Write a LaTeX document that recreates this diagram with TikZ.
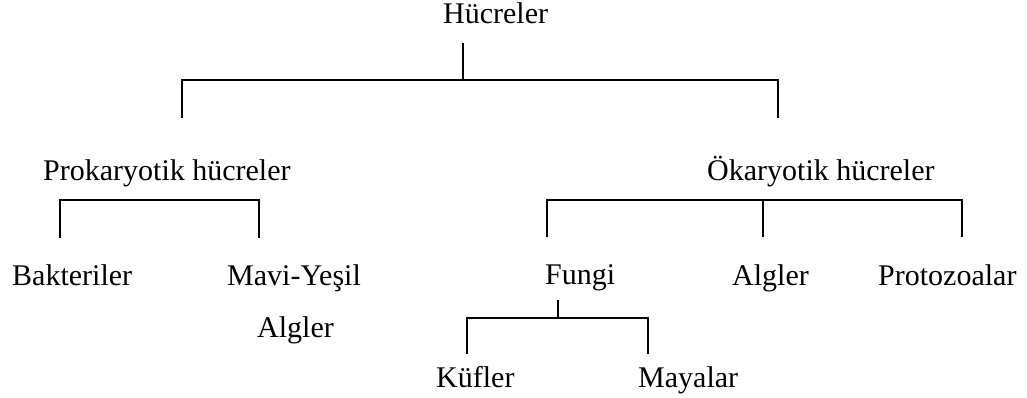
\documentclass[tikz,border=0pt]{standalone}
\usepackage{fontspec}
\setmainfont{Liberation Serif}
\begin{document}
\begin{tikzpicture}[x=1pt,y=-1pt,
  term/.style={anchor=base west, inner sep=0pt, font=\fontsize{30}{36}\selectfont},
  branch/.style={line width=1.4pt, line join=miter},
  stem/.style={line width=1.2pt}]
\useasboundingbox (0,0) rectangle (1027,398);

% labels of the classification tree
\node[term] (cells)   at (443,24)  {Hücreler};
\node[term] (prok)    at (43,180)  {Prokaryotik hücreler};
\node[term] (euk)     at (707,180) {Ökaryotik hücreler};
\node[term] (bact)    at (12,285)  {Bakteriler};
\node[term] (cyano)   at (227,285) {Mavi-Yeşil};
\node[term] (cyano2)  at (257,337) {Algler};
\node[term] (fungi)   at (545,284) {Fungi};
\node[term] (algae)   at (732,285) {Algler};
\node[term] (proto)   at (878,285) {Protozoalar};
\node[term] (molds)   at (436,387) {Küfler};
\node[term] (yeasts)  at (638,387) {Mayalar};

% junction points of the brackets
\coordinate (cells-s)  at (463,43);
\coordinate (cells-j)  at (463,80);
\coordinate (top-l)    at (182,80);
\coordinate (top-r)    at (778,80);
\coordinate (top-lb)   at (182,118);
\coordinate (top-rb)   at (778,118);

\coordinate (prok-l)   at (60,200);
\coordinate (prok-r)   at (259,200);
\coordinate (prok-lb)  at (60,238);
\coordinate (prok-rb)  at (259,238);

\coordinate (euk-l)    at (547,200);
\coordinate (euk-m)    at (763,200);
\coordinate (euk-r)    at (962,200);
\coordinate (euk-lb)   at (547,237);
\coordinate (euk-mb)   at (763,237);
\coordinate (euk-rb)   at (962,237);

\coordinate (fungi-s)  at (558,300);
\coordinate (fungi-j)  at (558,318);
\coordinate (fungi-l)  at (467,318);
\coordinate (fungi-r)  at (648,318);
\coordinate (fungi-lb) at (467,354);
\coordinate (fungi-rb) at (648,354);

% Hücreler -> two groups
\draw[stem] (cells-s) -- (cells-j);
\draw[branch] (top-lb) -- (top-l) -- (top-r) -- (top-rb);

% Prokaryotik hücreler
\draw[branch] (prok-lb) -- (prok-l) -- (prok-r) -- (prok-rb);

% Ökaryotik hücreler
\draw[branch] (euk-lb) -- (euk-l) -- (euk-r) -- (euk-rb);
\draw[stem] (euk-m) -- (euk-mb);

% Fungi
\draw[stem] (fungi-s) -- (fungi-j);
\draw[branch] (fungi-lb) -- (fungi-l) -- (fungi-r) -- (fungi-rb);
\end{tikzpicture}
\end{document}
